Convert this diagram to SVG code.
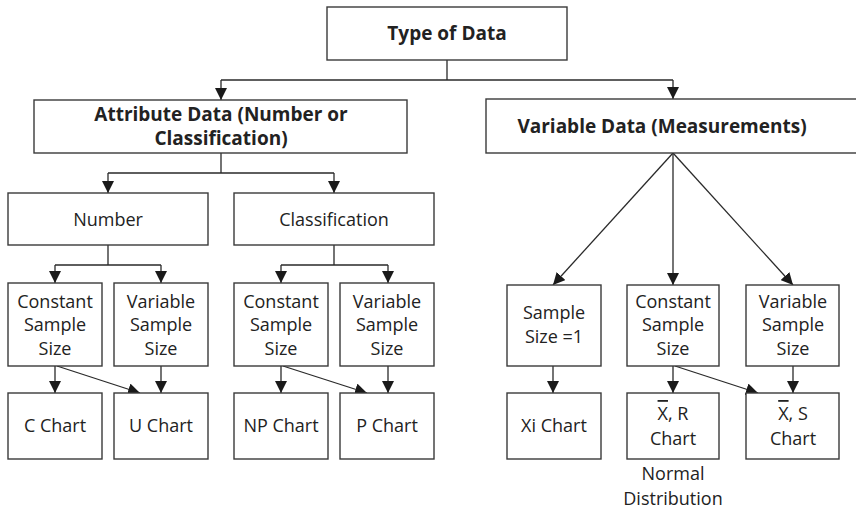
<svg xmlns="http://www.w3.org/2000/svg" width="856" height="509" viewBox="0 0 856 509">
<style>
.box{fill:#fff;stroke:#3a3a3a;stroke-width:1.4}
.t{font-family:"Open Sans","Liberation Sans",sans-serif;font-size:18px;fill:#222;text-anchor:middle}
.b{font-weight:bold;font-size:19px}
.c{fill:none;stroke:#2a2a2a;stroke-width:1.3}
</style>
<defs>
<marker id="ah" markerUnits="userSpaceOnUse" markerWidth="12" markerHeight="12" refX="12" refY="6" orient="auto">
<path d="M0,0 L12,6 L0,12 z" fill="#1a1a1a"/>
</marker>
</defs>
<rect width="856" height="509" fill="#fff"/>
<g id="connectors" class="c">
<path d="M447,60 V80 M221,80 H673"/>
<path d="M221,80 V100" marker-end="url(#ah)"/>
<path d="M673,80 V99" marker-end="url(#ah)"/>
<path d="M221,153 V173 M108,173 H334"/>
<path d="M108,173 V193" marker-end="url(#ah)"/>
<path d="M334,173 V193" marker-end="url(#ah)"/>
<path d="M108,245 V265 M55,265 H161"/>
<path d="M55,265 V283" marker-end="url(#ah)"/>
<path d="M161,265 V283" marker-end="url(#ah)"/>
<path d="M334,245 V265 M281,265 H388"/>
<path d="M281,265 V283" marker-end="url(#ah)"/>
<path d="M388,265 V283" marker-end="url(#ah)"/>
<path d="M55,366 V393" marker-end="url(#ah)"/>
<path d="M57,366 L140,393" marker-end="url(#ah)"/>
<path d="M161,366 V393" marker-end="url(#ah)"/>
<path d="M281,366 V393" marker-end="url(#ah)"/>
<path d="M283,366 L367,393" marker-end="url(#ah)"/>
<path d="M388,366 V393" marker-end="url(#ah)"/>
<path d="M673,153 L553,285" marker-end="url(#ah)"/>
<path d="M673,153 V285" marker-end="url(#ah)"/>
<path d="M673,153 L793,285" marker-end="url(#ah)"/>
<path d="M553,366 V393" marker-end="url(#ah)"/>
<path d="M673,366 V393" marker-end="url(#ah)"/>
<path d="M675,366 L758,393" marker-end="url(#ah)"/>
<path d="M793,366 V393" marker-end="url(#ah)"/>
</g>
<g id="type-of-data"><rect class="box" x="327" y="7" width="240" height="53"/><text class="t b" x="447" y="40">Type of Data</text></g>
<g id="attribute-data"><rect class="box" x="34" y="100" width="373" height="53"/><text class="t b" x="221" y="121">Attribute Data (Number or</text><text class="t b" x="221" y="145">Classification)</text></g>
<g id="variable-data"><rect class="box" x="486" y="99" width="380" height="54"/><text class="t b" x="662" y="133">Variable Data (Measurements)</text></g>
<g id="number"><rect class="box" x="8" y="193" width="200" height="52"/><text class="t" x="108" y="226">Number</text></g>
<g id="classification"><rect class="box" x="234" y="193" width="200" height="52"/><text class="t" x="334" y="226">Classification</text></g>
<g id="num-constant"><rect class="box" x="8" y="283" width="94" height="83"/><text class="t" x="55" y="308">Constant</text><text class="t" x="55" y="331">Sample</text><text class="t" x="55" y="355">Size</text></g>
<g id="num-variable"><rect class="box" x="114" y="283" width="94" height="83"/><text class="t" x="161" y="308">Variable</text><text class="t" x="161" y="331">Sample</text><text class="t" x="161" y="355">Size</text></g>
<g id="cls-constant"><rect class="box" x="234" y="283" width="94" height="83"/><text class="t" x="281" y="308">Constant</text><text class="t" x="281" y="331">Sample</text><text class="t" x="281" y="355">Size</text></g>
<g id="cls-variable"><rect class="box" x="340" y="283" width="94" height="83"/><text class="t" x="387" y="308">Variable</text><text class="t" x="387" y="331">Sample</text><text class="t" x="387" y="355">Size</text></g>
<g id="c-chart"><rect class="box" x="8" y="393" width="94" height="66"/><text class="t" x="55" y="432">C Chart</text></g>
<g id="u-chart"><rect class="box" x="114" y="393" width="94" height="66"/><text class="t" x="161" y="432">U Chart</text></g>
<g id="np-chart"><rect class="box" x="234" y="393" width="94" height="66"/><text class="t" x="281" y="432">NP Chart</text></g>
<g id="p-chart"><rect class="box" x="340" y="393" width="94" height="66"/><text class="t" x="387" y="432">P Chart</text></g>
<g id="sample-one"><rect class="box" x="507" y="285" width="94" height="81"/><text class="t" x="554" y="319">Sample</text><text class="t" x="554" y="343">Size =1</text></g>
<g id="var-constant"><rect class="box" x="627" y="285" width="92" height="81"/><text class="t" x="673" y="308">Constant</text><text class="t" x="673" y="331">Sample</text><text class="t" x="673" y="355">Size</text></g>
<g id="var-variable"><rect class="box" x="746" y="285" width="93" height="81"/><text class="t" x="793" y="308">Variable</text><text class="t" x="793" y="331">Sample</text><text class="t" x="793" y="355">Size</text></g>
<g id="xi-chart"><rect class="box" x="507" y="393" width="94" height="66"/><text class="t" x="554" y="432">Xi Chart</text></g>
<g id="xr-chart"><rect class="box" x="627" y="393" width="92" height="66"/><text class="t" x="673" y="420"><tspan text-decoration="overline">X</tspan>, R</text><text class="t" x="673" y="445">Chart</text></g>
<g id="xs-chart"><rect class="box" x="746" y="393" width="93" height="66"/><text class="t" x="793" y="420"><tspan text-decoration="overline">X</tspan>, S</text><text class="t" x="793" y="445">Chart</text></g>
<g id="normal-label"><text class="t" x="673" y="480">Normal</text><text class="t" x="673" y="505">Distribution</text></g>
</svg>
